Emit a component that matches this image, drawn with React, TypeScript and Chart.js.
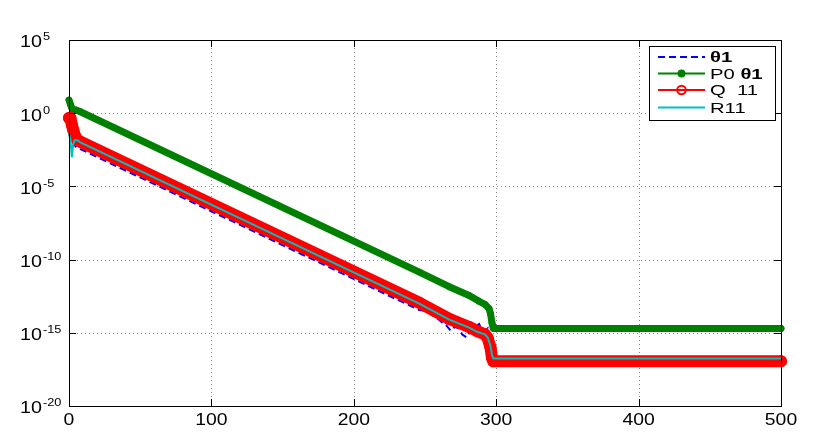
import React, { useEffect, useRef } from 'react';
import { Chart, registerables } from 'chart.js';

Chart.register(...registerables);

// ---- tick values ----
const xTicks = [0, 100, 200, 300, 400, 500];
const yTickExps = [5, 0, -5, -10, -15, -20];

// ---- series (x positions and log10 of the value) ----
const theta1X = [0, 1, 2, 3, 5, 8, 246, 251, 255, 258, 262, 265, 268, 271, 274, 276, 279, 282, 285, 288, 290, 292, 294, 296, 297, 298, 500];
const theta1Exp = [-0.45, -1.0, -1.7, -2.1, -2.3, -2.45, -13.45, -13.5, -13.8, -13.95, -14.3, -14.5, -14.85, -14.6, -14.7, -15.1, -15.3, -14.9, -14.6, -14.4, -14.85, -14.9, -14.7, -16.0, -16.9, -17.0, -17.0];

const p0X = [0, 1, 2, 3, 5, 8, 246, 267, 281, 288, 292, 295, 296, 297, 298, 500];
const p0Exp = [0.9, 0.6, 0.35, 0.2, 0.22, 0.1, -10.85, -11.85, -12.45, -12.85, -13.05, -13.35, -13.7, -14.3, -14.7, -14.7];

const q11X = [0, 1, 2, 3, 4, 5, 6, 8, 246, 267, 281, 287, 292, 294, 296, 297, 298, 500];
const q11Exp = [-0.33, -0.33, -0.8, -1.15, -1.5, -1.7, -1.85, -1.95, -12.95, -14.05, -14.6, -14.9, -15.1, -15.35, -16.0, -16.7, -16.95, -16.95];

const r11X = [0, 1, 2, 3, 4, 6, 8, 246, 267, 281, 287, 292, 294, 296, 297, 298, 500];
const r11Exp = [-1.4, -1.8, -3.0, -2.1, -1.85, -1.85, -2.0, -13.0, -14.1, -14.65, -14.95, -15.1, -15.3, -15.9, -16.5, -16.75, -16.75];

const seriesNames = ['θ1', 'P0 θ1', 'Q  11', 'R11'];

const FONT = '"Liberation Sans", Arial, Helvetica, sans-serif';
const BLUE = '#0000ff';
const GREEN = '#008000';
const RED = '#ff0000';
const TEAL = '#00bfbf';

function toPoints(xs: number[], exps: number[]) {
  return xs.map((x, i) => ({ x, y: Math.pow(10, exps[i]) }));
}

function stretched(ctx: CanvasRenderingContext2D, text: string, x: number, y: number, sx: number, align: CanvasTextAlign) {
  ctx.save();
  ctx.translate(x, y);
  ctx.scale(sx, 1);
  ctx.textAlign = align;
  ctx.textBaseline = 'alphabetic';
  ctx.fillText(text, 0, 0);
  ctx.restore();
}

const axesPlugin = {
  id: 'matlabAxes',
  beforeDatasetsDraw(chart: any) {
    const { ctx, chartArea, scales } = chart;
    const { left, right, top, bottom } = chartArea;
    ctx.save();
    ctx.strokeStyle = '#8a8a8a';
    ctx.lineWidth = 1;
    ctx.setLineDash([1, 3]);
    xTicks.slice(1, -1).forEach((v) => {
      const px = Math.round(scales.x.getPixelForValue(v)) + 0.5;
      ctx.beginPath();
      ctx.moveTo(px, top);
      ctx.lineTo(px, bottom);
      ctx.stroke();
    });
    yTickExps.slice(1, -1).forEach((e) => {
      const py = Math.round(scales.y.getPixelForValue(Math.pow(10, e))) + 0.5;
      ctx.beginPath();
      ctx.moveTo(left, py);
      ctx.lineTo(right, py);
      ctx.stroke();
    });
    ctx.restore();
  },
  afterDatasetsDraw(chart: any) {
    const { ctx, chartArea, scales } = chart;
    const { left, right, top, bottom } = chartArea;
    ctx.save();
    ctx.strokeStyle = '#000';
    ctx.lineWidth = 1;
    ctx.setLineDash([]);
    ctx.strokeRect(left + 0.5, top + 0.5, right - left, bottom - top);
    const tl = 7;
    xTicks.forEach((v) => {
      const px = Math.round(scales.x.getPixelForValue(v)) + 0.5;
      ctx.beginPath();
      ctx.moveTo(px, bottom);
      ctx.lineTo(px, bottom - tl);
      ctx.moveTo(px, top);
      ctx.lineTo(px, top + tl);
      ctx.stroke();
    });
    yTickExps.forEach((e) => {
      const py = Math.round(scales.y.getPixelForValue(Math.pow(10, e))) + 0.5;
      ctx.beginPath();
      ctx.moveTo(left, py);
      ctx.lineTo(left + tl, py);
      ctx.moveTo(right, py);
      ctx.lineTo(right - tl, py);
      ctx.stroke();
    });
    // tick labels
    ctx.fillStyle = '#000';
    xTicks.forEach((v) => {
      const px = scales.x.getPixelForValue(v);
      ctx.font = `17px ${FONT}`;
      stretched(ctx, String(v), px, bottom + 19, 1.14, 'center');
    });
    yTickExps.forEach((e) => {
      const py = scales.y.getPixelForValue(Math.pow(10, e));
      ctx.font = `17px ${FONT}`;
      stretched(ctx, '10', 20, py + 7.4, 1.16, 'left');
      ctx.font = `11px ${FONT}`;
      stretched(ctx, String(e), 43, py + 0.3, 1.16, 'left');
    });
    ctx.restore();
  },
  afterDraw(chart: any) {
    const { ctx } = chart;
    ctx.save();
    const bx = 649, by = 46, bw = 126, bh = 74;
    ctx.fillStyle = '#fff';
    ctx.fillRect(bx, by, bw, bh);
    ctx.strokeStyle = '#000';
    ctx.lineWidth = 1;
    ctx.strokeRect(bx + 0.5, by + 0.5, bw, bh);
    const rows = [57, 73.5, 90, 107.5];
    const lx0 = 658, lx1 = 705, mx = 681.5, tx = 710;
    const sx = 1.35;
    // row 1: blue dashed
    ctx.strokeStyle = BLUE;
    ctx.lineWidth = 2;
    ctx.setLineDash([7, 4]);
    ctx.beginPath();
    ctx.moveTo(lx0, rows[0]);
    ctx.lineTo(lx1, rows[0]);
    ctx.stroke();
    ctx.setLineDash([]);
    // row 2: green with dot
    ctx.strokeStyle = GREEN;
    ctx.beginPath();
    ctx.moveTo(lx0, rows[1]);
    ctx.lineTo(lx1, rows[1]);
    ctx.stroke();
    ctx.fillStyle = GREEN;
    ctx.beginPath();
    ctx.arc(mx, rows[1], 4, 0, Math.PI * 2);
    ctx.fill();
    // row 3: red with circle
    ctx.strokeStyle = RED;
    ctx.beginPath();
    ctx.moveTo(lx0, rows[2]);
    ctx.lineTo(lx1, rows[2]);
    ctx.stroke();
    ctx.beginPath();
    ctx.arc(mx, rows[2], 4.3, 0, Math.PI * 2);
    ctx.stroke();
    // row 4: teal
    ctx.strokeStyle = TEAL;
    ctx.beginPath();
    ctx.moveTo(lx0, rows[3]);
    ctx.lineTo(lx1, rows[3]);
    ctx.stroke();
    // texts
    ctx.fillStyle = '#000';
    const rich = (segs: [string, boolean][], x: number, y: number) => {
      let cx = x;
      segs.forEach(([t, bold]) => {
        ctx.font = `${bold ? 'bold ' : ''}15px ${FONT}`;
        stretched(ctx, t, cx, y, sx, 'left');
        cx += ctx.measureText(t).width * sx;
      });
    };
    rich([[seriesNames[0], true]], tx, rows[0] + 5.4);
    rich([['P0 ', false], ['θ1', true]], tx, rows[1] + 5.4);
    rich([[seriesNames[2], false]], tx, rows[2] + 5.4);
    rich([[seriesNames[3], false]], tx, rows[3] + 5.4);
    ctx.restore();
  },
};

export default function App() {
  const ref = useRef<HTMLCanvasElement | null>(null);
  useEffect(() => {
    document.body.style.margin = '0';
    document.body.style.background = '#fff';
    const canvas = ref.current;
    if (!canvas) return;
    const chart = new Chart(canvas, {
      type: 'line',
      data: {
        datasets: [
          {
            label: seriesNames[0],
            data: toPoints(theta1X, theta1Exp),
            borderColor: BLUE,
            borderWidth: 2,
            borderDash: [7, 4],
            pointRadius: 0,
            clip: false as any,
            order: 3,
          },
          {
            label: seriesNames[1],
            data: toPoints(p0X, p0Exp),
            borderColor: GREEN,
            borderWidth: 7,
            borderCapStyle: 'round',
            borderJoinStyle: 'round',
            pointRadius: 3,
            pointBorderWidth: 1,
            pointBackgroundColor: GREEN,
            pointBorderColor: GREEN,
            clip: false as any,
            order: 2,
          },
          {
            label: seriesNames[2],
            data: toPoints(q11X, q11Exp),
            borderColor: RED,
            borderWidth: 12,
            borderCapStyle: 'round',
            borderJoinStyle: 'round',
            pointRadius: 5,
            pointBorderWidth: 2,
            pointBackgroundColor: 'rgba(0,0,0,0)',
            pointBorderColor: RED,
            clip: false as any,
            order: 1,
          },
          {
            label: seriesNames[3],
            data: toPoints(r11X, r11Exp),
            borderColor: TEAL,
            borderWidth: 2,
            pointRadius: 0,
            clip: false as any,
            order: 0,
          },
        ],
      },
      options: {
        animation: false,
        responsive: false,
        devicePixelRatio: 1,
        layout: { padding: { left: 69, right: 50, top: 40, bottom: 37 } },
        elements: { line: { tension: 0 } },
        scales: {
          x: { type: 'linear', min: 0, max: 500, display: false },
          y: { type: 'logarithmic', min: 1e-20, max: 1e5, display: false },
        },
        plugins: { legend: { display: false }, tooltip: { enabled: false } },
      },
      plugins: [axesPlugin],
    } as any);
    return () => chart.destroy();
  }, []);
  return (
    <div style={{ width: 831, height: 443, background: '#fff' }}>
      <canvas ref={ref} width={831} height={443} style={{ display: 'block', width: 831, height: 443 }} />
    </div>
  );
}
